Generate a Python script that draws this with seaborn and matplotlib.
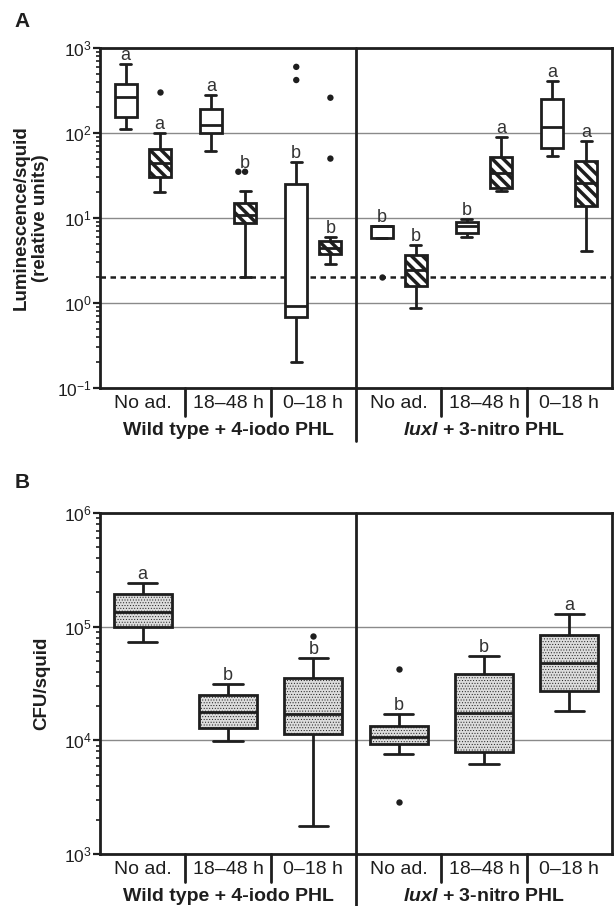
import numpy as np
import pandas as pd
import seaborn as sns
import matplotlib
matplotlib.use("Agg")
import matplotlib.pyplot as plt
from matplotlib.ticker import LogLocator, NullFormatter

# categories
treatments = ["No ad.", "18–48 h", "0–18 h"]
strains = ["WT", "luxI"]
strain_labels = ["Wild type + 4-iodo PHL", r"$\mathbfit{luxI}$ + 3-nitro PHL"]
box_keys = [f"{s}|{t}" for s in strains for t in treatments]
tick_labels = treatments * 2
series_names = ["open", "hatched"]

# panel A: luminescence/squid, five-number summaries (min, q1, median, q3, max)
lum_open_min = [110, 61, 0.2, 5.8, 6.0, 53]
lum_open_q1 = [154, 101, 0.69, 5.8, 6.7, 67]
lum_open_med = [265, 123, 0.92, 8.0, 8.05, 117]
lum_open_q3 = [374, 191, 25, 8.0, 9.05, 253]
lum_open_max = [645, 280, 45, 8.0, 9.65, 409]

lum_hatch_min = [20, 2.0, 2.9, 0.88, 20.8, 4.1]
lum_hatch_q1 = [30, 8.7, 3.77, 1.58, 22.7, 14]
lum_hatch_med = [44, 10.8, 4.4, 2.45, 34, 26]
lum_hatch_q3 = [65, 15, 5.3, 3.67, 52, 47]
lum_hatch_max = [100, 20.6, 6.0, 4.8, 89, 80]

lum_out_box = ["WT|0–18 h", "WT|0–18 h", "luxI|No ad.",
               "WT|No ad.", "WT|18–48 h", "WT|18–48 h", "WT|0–18 h", "WT|0–18 h"]
lum_out_series = ["open", "open", "open",
                  "hatched", "hatched", "hatched", "hatched", "hatched"]
lum_out_value = [600, 420, 2.0, 300, 35, 35, 260, 50]

lum_letters_open = ["a", "a", "b", "b", "b", "a"]
lum_letters_hatch = ["a", "b", "b", "b", "a", "a"]
detection_limit = 2.0

# panel B: CFU/squid
cfu_min = [73800, 9860, 1780, 7590, 6160, 18200]
cfu_q1 = [98600, 12900, 11400, 9250, 7850, 27200]
cfu_med = [134000, 17700, 17100, 10800, 17500, 47600]
cfu_q3 = [194000, 24800, 35600, 13400, 38100, 84500]
cfu_max = [241000, 31400, 53000, 17100, 55200, 129000]

cfu_out_box = ["WT|0–18 h", "luxI|No ad.", "luxI|No ad."]
cfu_out_value = [83300, 42500, 2890]
cfu_letters = ["a", "b", "b", "b", "b", "a"]


def five_num_frame(mins, q1s, meds, q3s, maxs, series):
    rows = []
    for k, lo, a, m, b, hi in zip(box_keys, mins, q1s, meds, q3s, maxs):
        for v in (lo, a, m, b, hi):
            rows.append({"box": k, "value": v, "series": series})
    return pd.DataFrame(rows)


dfA = pd.concat([
    five_num_frame(lum_open_min, lum_open_q1, lum_open_med, lum_open_q3, lum_open_max, "open"),
    five_num_frame(lum_hatch_min, lum_hatch_q1, lum_hatch_med, lum_hatch_q3, lum_hatch_max, "hatched"),
], ignore_index=True)
outA = pd.DataFrame({"box": lum_out_box, "series": lum_out_series, "value": lum_out_value})

dfB = five_num_frame(cfu_min, cfu_q1, cfu_med, cfu_q3, cfu_max, "cfu")
outB = pd.DataFrame({"box": cfu_out_box, "value": cfu_out_value})

sns.set_theme(style="ticks")
plt.rcParams["font.family"] = ["Liberation Sans", "DejaVu Sans"]
plt.rcParams["mathtext.fontset"] = "custom"
plt.rcParams["mathtext.rm"] = "Liberation Sans"
plt.rcParams["mathtext.bfit"] = "Liberation Sans:italic:bold"
plt.rcParams["mathtext.default"] = "regular"
plt.rcParams["axes.unicode_minus"] = False
plt.rcParams["hatch.linewidth"] = 2.5

W, H = 616, 906
fig = plt.figure(figsize=(W / 100, H / 100), dpi=100)
axA = fig.add_axes([100 / W, 1 - 388 / H, 512 / W, 340 / H])
axB = fig.add_axes([100 / W, 1 - 854 / H, 512 / W, 341 / H])

INK = "#1e1e1e"


def style_axis(ax, ylim):
    ax.set_ylim(*ylim)
    ax.set_xlim(-0.5, 5.5)
    ax.yaxis.set_major_locator(LogLocator(base=10, numticks=10))
    ax.yaxis.set_minor_locator(LogLocator(base=10, subs=np.arange(2, 10), numticks=10))
    ax.yaxis.set_minor_formatter(NullFormatter())
    ax.grid(axis="y", which="major", color="#8a8a8a", lw=1.0)
    ax.grid(axis="x", visible=False)
    ax.set_axisbelow(True)
    for sp in ax.spines.values():
        sp.set_visible(True)
        sp.set_linewidth(2.0)
        sp.set_color(INK)
    ax.tick_params(axis="y", which="major", direction="out", length=5, width=1.6,
                   labelsize=12.5, colors=INK, pad=1)
    ax.tick_params(axis="y", which="minor", direction="out", length=3, width=1.2, colors=INK)
    ax.tick_params(axis="x", length=0, pad=5, labelsize=14, colors=INK)
    ax.set_xticks(range(6))
    ax.set_xticklabels(tick_labels)
    ax.set_xlabel("")
    ax.set_ylabel("")
    trans = ax.get_xaxis_transform()
    for xb in (0.5, 1.5, 3.5, 4.5):
        ax.plot([xb, xb], [0, -0.082], transform=trans, color=INK, lw=2.0, clip_on=False)
    ax.plot([2.5, 2.5], [1, -0.155], transform=trans, color=INK, lw=2.0, clip_on=False)
    for xc, lab in zip((1, 4), strain_labels):
        ax.text(xc, -0.126, lab, transform=trans, ha="center", va="center",
                fontsize=14, fontweight="bold", color=INK)


def add_letter(ax, x, y, letter):
    ax.annotate(letter, (x, y), xytext=(0, 3), textcoords="offset points",
                ha="center", va="baseline", fontsize=13, color="#333333")


# ---- Panel A ----
ax = axA
ax.axhline(detection_limit, color=INK, lw=1.8, ls=(0, (2.2, 1.8)), zorder=1.5)
sns.boxplot(data=dfA, x="box", y="value", hue="series", order=box_keys,
            hue_order=series_names, palette={"open": "white", "hatched": "white"},
            log_scale=True, whis=(0, 100), showfliers=False, width=0.8, gap=0.35,
            linecolor=INK, linewidth=2.0, legend=False, ax=ax)
for p in ax.patches:
    ext = p.get_path().get_extents()
    xc = (ext.x0 + ext.x1) / 2
    if xc - round(xc) > 0.05:
        p.set_hatch("\\\\\\")
sns.swarmplot(data=outA, x="box", y="value", hue="series", order=box_keys,
              hue_order=series_names, palette={"open": INK, "hatched": INK},
              dodge=True, size=4.6, legend=False, log_scale=True, ax=ax)
style_axis(ax, (0.1, 1000))

for i in range(6):
    add_letter(ax, i - 0.2, lum_open_max[i], lum_letters_open[i])
    top = lum_hatch_max[i]
    near = [v for b, s, v in zip(lum_out_box, lum_out_series, lum_out_value)
            if b == box_keys[i] and s == "hatched" and v < 2 * top]
    add_letter(ax, i + 0.2, max([top] + near), lum_letters_hatch[i])

# ---- Panel B ----
ax = axB
sns.boxplot(data=dfB, x="box", y="value", order=box_keys, color="#dcdcdc",
            log_scale=True, whis=(0, 100), showfliers=False, width=0.68,
            linecolor=INK, linewidth=2.0, ax=ax)
for p in ax.patches:
    p.set_hatch("......")
    if hasattr(p, "set_hatch_linewidth"):
        p.set_hatch_linewidth(0.4)
sns.swarmplot(data=outB, x="box", y="value", order=box_keys, color=INK,
              size=4.6, log_scale=True, ax=ax)
style_axis(ax, (1e3, 1e6))
for i in range(6):
    add_letter(ax, i, cfu_max[i], cfu_letters[i])

# labels
fig.text(31 / W, 1 - 218 / H, "Luminescence/squid\n(relative units)", rotation=90,
         ha="center", va="center", fontsize=13.5, fontweight="bold", color=INK,
         linespacing=1.15)
fig.text(42 / W, 1 - 683 / H, "CFU/squid", rotation=90, ha="center", va="center",
         fontsize=13.5, fontweight="bold", color=INK)
fig.text(22 / W, 1 - 21.5 / H, "A", ha="center", va="center", fontsize=15,
         fontweight="bold", color=INK)
fig.text(22 / W, 1 - 482 / H, "B", ha="center", va="center", fontsize=15,
         fontweight="bold", color=INK)

fig.savefig("out.png", dpi=100)
